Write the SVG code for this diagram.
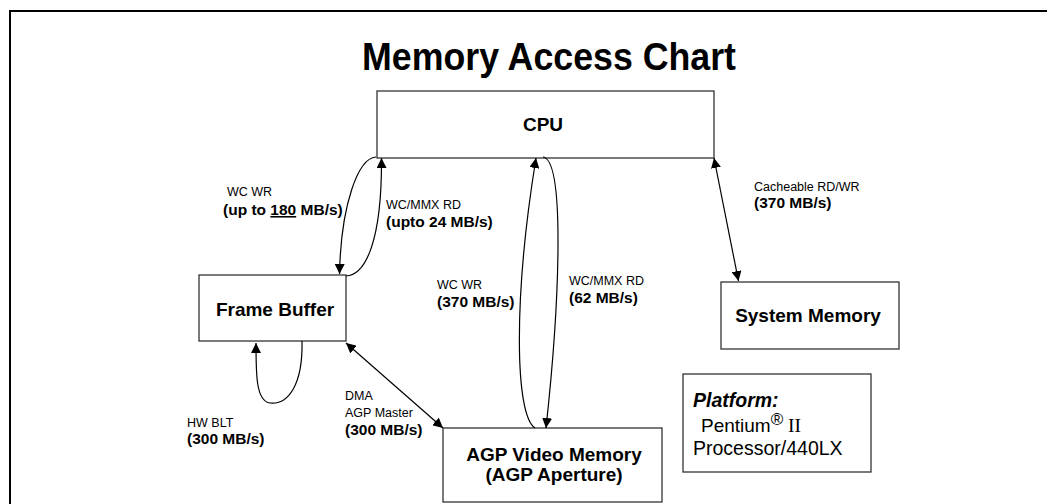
<svg xmlns="http://www.w3.org/2000/svg" width="1047" height="504" viewBox="0 0 1047 504">
<defs>
<style>
text{font-family:"Liberation Sans",Arial,sans-serif;fill:#000}
.box{fill:#fff;stroke:#333;stroke-width:1.3}
.node{font-size:19px;font-weight:bold;text-anchor:middle}
.lab{font-size:12.5px}
.bl{font-size:15.5px;font-weight:bold}
.con{fill:none;stroke:#000;stroke-width:1.2}
</style>
<marker id="ah" viewBox="0 0 10 10" refX="10" refY="5" markerWidth="10" markerHeight="10" markerUnits="userSpaceOnUse" orient="auto-start-reverse">
<path d="M0,0 L10,5 L0,10 z" fill="#000"/>
</marker>
</defs>
<rect width="1047" height="504" fill="#fff"/>
<path d="M10,504 V11 H1047" fill="none" stroke="#000" stroke-width="2"/>
<text x="549" y="70" font-size="38" font-weight="bold" text-anchor="middle" textLength="374" lengthAdjust="spacingAndGlyphs">Memory Access Chart</text>

<g id="cpu"><rect class="box" x="377" y="91" width="337" height="67"/><text class="node" x="543" y="131">CPU</text></g>
<g id="frame-buffer"><rect class="box" x="199" y="275" width="147" height="66"/><text class="node" x="275" y="316">Frame Buffer</text></g>
<g id="agp-memory"><rect class="box" x="443" y="428" width="219" height="74"/><text class="node" x="554" y="461">AGP Video Memory</text><text class="node" x="554" y="481">(AGP Aperture)</text></g>
<g id="system-memory"><rect class="box" x="721" y="282" width="178" height="67"/><text class="node" x="808" y="322">System Memory</text></g>
<g id="platform"><rect class="box" x="683" y="374" width="188" height="98"/>
<text x="693" y="407" font-size="19.5" font-weight="bold" font-style="italic">Platform:</text>
<text x="701" y="432" font-size="19">Pentium<tspan font-size="17" dy="-7">®</tspan><tspan dy="7" font-family="Liberation Serif,serif" font-size="19.5"> II</tspan></text>
<text x="693" y="455" font-size="19.5">Processor/440LX</text>
</g>

<g id="connectors">
<path class="con" d="M376,157 C358,158 341,205 339.5,274" marker-end="url(#ah)"/>
<path class="con" d="M346,276 C366,275 382,240 381.5,158" marker-end="url(#ah)"/>
<path class="con" d="M302,341 C303,385 288,405 270,403 C256,401 256,375 256,343" marker-end="url(#ah)"/>
<path class="con" d="M535,428 C515,415 513,300 536,158" marker-end="url(#ah)"/>
<path class="con" d="M543,157 C565,160 560,300 546,428" marker-end="url(#ah)"/>
<path class="con" d="M714,158 L738.5,281" marker-start="url(#ah)" marker-end="url(#ah)"/>
<path class="con" d="M346,343 L443,428" marker-start="url(#ah)" marker-end="url(#ah)"/>
</g>

<g id="labels">
<text class="lab" x="227" y="196">WC WR</text>
<text class="bl" x="223" y="215">(up to <tspan text-decoration="underline">180</tspan> MB/s)</text>
<text class="lab" x="386" y="209">WC/MMX RD</text>
<text class="bl" x="386" y="227">(upto 24 MB/s)</text>
<text class="lab" x="437" y="289">WC WR</text>
<text class="bl" x="437" y="307">(370 MB/s)</text>
<text class="lab" x="569" y="285">WC/MMX RD</text>
<text class="bl" x="569" y="303">(62 MB/s)</text>
<text class="lab" x="754" y="191">Cacheable RD/WR</text>
<text class="bl" x="754" y="208">(370 MB/s)</text>
<text class="lab" x="345" y="400">DMA</text>
<text class="lab" x="345" y="417">AGP Master</text>
<text class="bl" x="345" y="435">(300 MB/s)</text>
<text class="lab" x="187" y="427">HW BLT</text>
<text class="bl" x="187" y="444">(300 MB/s)</text>
</g>
</svg>
